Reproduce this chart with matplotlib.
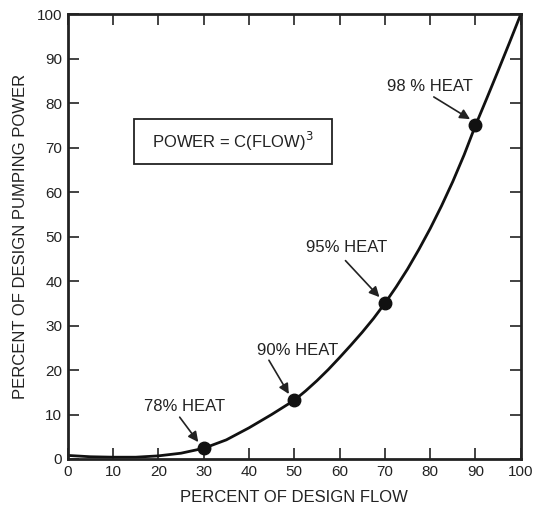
import matplotlib.pyplot as plt
from matplotlib.patches import Rectangle

plt.rcParams['font.family'] = ['Liberation Sans', 'DejaVu Sans']

# curve
flow = [0, 5, 10, 15, 20, 25, 30, 35, 40, 45, 50, 52.5, 55, 57.5, 60, 62.5, 65, 67.5,
        70, 72.5, 75, 77.5, 80, 82.5, 85, 87.5, 90, 92.5, 95, 97.5, 100]
power = [0.8, 0.5, 0.4, 0.4, 0.7, 1.3, 2.4, 4.3, 7.0, 10.0, 13.2, 15.3, 17.6, 20.1, 22.8,
         25.6, 28.5, 31.6, 35.0, 38.7, 42.7, 47.1, 51.8, 56.9, 62.4, 68.4, 75.0, 81.1,
         87.3, 93.6, 100]

# marked points and their labels
pt_flow = [30, 50, 70, 90]
pt_power = [2.4, 13.2, 35.0, 75.0]
pt_labels = ['78% HEAT', '90% HEAT', '95% HEAT', '98 % HEAT']
label_xy = [(25.8, 11.8), (50.8, 24.3), (61.5, 47.6), (79.9, 83.7)]
arrow_tail = [(24.7, 9.4), (44.4, 22.2), (61.3, 44.6), (80.8, 81.4)]

ticks = list(range(0, 101, 10))

fig = plt.figure(figsize=(5.38, 5.08), dpi=100)
ax = fig.add_axes([0.126, 0.0965, 0.842, 0.8755])

ax.plot(flow, power, color='#111111', lw=2.0, solid_capstyle='round',
        solid_joinstyle='round')
ax.plot(pt_flow, pt_power, 'o', color='#111111', ms=9)

for (px, py), lab, (lx, ly), (tx, ty) in zip(zip(pt_flow, pt_power), pt_labels, label_xy, arrow_tail):
    ax.text(lx, ly, lab, ha='center', va='center', fontsize=12, color='#222222')
    ax.annotate('', xy=(px - 1.2, py + 1.4), xytext=(tx, ty),
                arrowprops=dict(arrowstyle='-|>', color='#222222', lw=1.2,
                                mutation_scale=15, shrinkA=0, shrinkB=0))

ax.add_patch(Rectangle((14.7, 66.3), 43.7, 10.1, fill=False, ec='#222222', lw=1.3))
ax.text(36.4, 71.4, 'POWER = C(FLOW)$^3$', ha='center', va='center', fontsize=12,
        color='#222222')

ax.set_xlim(0, 100)
ax.set_ylim(0, 100)
ax.set_xticks(ticks)
ax.set_yticks(ticks)
ax.tick_params(direction='in', length=8, width=1.2, top=True, right=True,
               labelsize=11, colors='#222222', pad=4)
for s in ax.spines.values():
    s.set_linewidth(2.0)
    s.set_color('#222222')

ax.set_xlabel('PERCENT OF DESIGN FLOW', fontsize=12, color='#222222', labelpad=8)
ax.set_ylabel('PERCENT OF DESIGN PUMPING POWER', fontsize=12, color='#222222', labelpad=6)

fig.savefig('out.png', dpi=100)
